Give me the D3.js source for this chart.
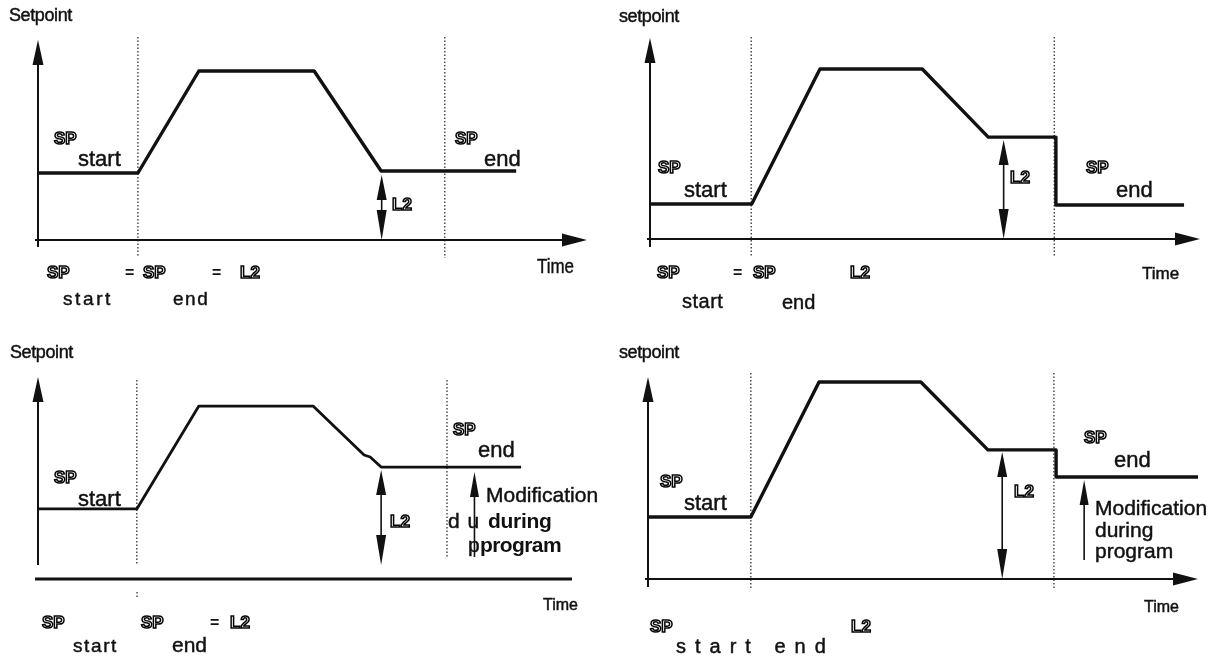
<!DOCTYPE html>
<html>
<head>
<meta charset="utf-8">
<script src="https://cdn.jsdelivr.net/npm/d3@7"></script>
<style>
body { margin: 0; background: #fff; }
svg { display: block; font-family: "Liberation Sans", Arial, Helvetica, sans-serif; filter: grayscale(1); }
.sp { font-weight: bold; fill: #fff; stroke: #000; stroke-width: 1.5px; }
.eq { font-weight: bold; fill: #111; }
.lbl { fill: #111; stroke: #111; stroke-width: 0.45px; }
.bold { fill: #111; font-weight: bold; }
</style>
</head>
<body>
<svg id="chart" width="1225" height="661"></svg>
<script>
// setpoint profiles, time and setpoint both in % of the axis length
var p1Time = [0, 18.2, 29.3, 50.3, 62.5, 87.1];
var p1Setpoint = [33.5, 33.5, 84.5, 84.5, 34.5, 34.5];
var p2Time = [0, 18.5, 30.9, 49.5, 61.5, 73.8, 73.8, 97.1];
var p2Setpoint = [17.4, 17.4, 84.6, 84.6, 50.7, 50.7, 16.9, 16.9];
var p3Time = [0, 18.0, 29.3, 50.1, 59.4, 60.5, 62.5, 88.0];
var p3Setpoint = [34.7, 34.7, 85.6, 85.6, 61.4, 60.4, 55.4, 55.4];
var p4Time = [0, 18.7, 31.1, 49.6, 61.8, 74.2, 74.2, 100];
var p4Setpoint = [30.7, 30.7, 97.5, 97.5, 63.9, 63.9, 50.5, 50.5];

// program start / end (dotted verticals)
var p1Marks = [18.2, 74.1];
var p2Marks = [18.4, 73.5];
var p3Marks = [18.0, 74.5];
var p4Marks = [18.7, 73.8];

// L2 double arrows: [time, low, high]
var p1L2 = [62.6, 0, 32.5];
var p2L2 = [64.3, 0, 49.3];
var p3L2 = [62.5, 6.9, 54.0];
var p4L2 = [64.4, 0, 62.9];

// "modification during program" arrows: [time, low, high]
var p3Mod = [79.5, 10.9, 53.0];
var p4Mod = [79.3, 9.4, 49.0];

var svg = d3.select('#chart');

function head(g, x, y, dir, len, half) {
    var pts;
    if (dir === 'up') pts = [[x, y], [x - half, y + len], [x + half, y + len]];
    if (dir === 'down') pts = [[x, y], [x - half, y - len], [x + half, y - len]];
    if (dir === 'right') pts = [[x, y], [x - len, y - half], [x - len, y + half]];
    g.append('path')
        .attr('d', d3.line()(pts) + 'Z')
        .attr('fill', '#111');
}

// len: force the text to a given width (the scan uses a narrow face)
function txt(g, x, y, s, size, cls, ls, len) {
    var t = g.append('text')
        .attr('class', cls || 'lbl')
        .attr('x', x)
        .attr('y', y)
        .style('font-size', size + 'px')
        .style('letter-spacing', (ls || 0) + 'px')
        .text(s);
    if (len) t.attr('textLength', len).attr('lengthAdjust', 'spacingAndGlyphs');
    return t;
}

function drawPanel(p) {
    var x = d3.scaleLinear().domain([0, 100]).range([p.x0, p.x1]);
    var y = d3.scaleLinear().domain([0, 100]).range([p.y0, p.y1]);
    var g = svg.append('g');

    // dotted program marks
    g.selectAll('.mark')
        .data(p.marks)
        .enter().append('line')
        .attr('class', 'mark')
        .attr('x1', function(d) { return x(d); })
        .attr('x2', function(d) { return x(d); })
        .attr('y1', p.markTop)
        .attr('y2', function(d, i) { return p.markBottom[i]; })
        .attr('stroke', '#333')
        .attr('stroke-width', 1.3)
        .attr('stroke-dasharray', '1.5,2');

    // axes
    g.append('line')
        .attr('x1', p.x0).attr('x2', p.x0)
        .attr('y1', p.yAxisBottom).attr('y2', y(100) + 10)
        .attr('stroke', '#111').attr('stroke-width', 2);
    head(g, p.x0, y(100), 'up', 25, 5.5);

    g.append('line')
        .attr('x1', p.x0 - 3).attr('x2', p.xAxisEnd ? p.xAxisEnd : x(100) - 10)
        .attr('y1', p.y0).attr('y2', p.y0)
        .attr('stroke', '#111').attr('stroke-width', p.xAxisWidth || 2);
    if (!p.xAxisEnd) head(g, x(100), p.y0, 'right', 25, 6.5);

    // setpoint profile
    var line = d3.line()
        .x(function(d, i) { return x(p.time[i]); })
        .y(function(d) { return y(d); });
    g.append('path')
        .datum(p.sp)
        .attr('d', line)
        .attr('fill', 'none')
        .attr('stroke', '#111')
        .attr('stroke-width', p.lineWidth || 3.4)
        .attr('stroke-linejoin', 'round');

    // L2 double arrow
    var lx = x(p.l2[0]), lTop = y(p.l2[2]), lBot = y(p.l2[1]);
    g.append('line')
        .attr('x1', lx).attr('x2', lx)
        .attr('y1', lTop + 10).attr('y2', lBot - 10)
        .attr('stroke', '#111').attr('stroke-width', 1.6);
    head(g, lx, lTop, 'up', 25, 5);
    head(g, lx, lBot, 'down', 30, 5);

    if (p.mod) {
        var mx = x(p.mod[0]);
        g.append('line')
            .attr('x1', mx).attr('x2', mx)
            .attr('y1', y(p.mod[2]) + 10).attr('y2', y(p.mod[1]))
            .attr('stroke', '#111').attr('stroke-width', 1.6);
        head(g, mx, y(p.mod[2]), 'up', 25, 4.5);
    }
    return g;
}

var g1 = drawPanel({x0: 38, x1: 587, y0: 240, y1: 40, time: p1Time, sp: p1Setpoint,
    marks: p1Marks, markTop: 37, markBottom: [256, 258], yAxisBottom: 247, l2: p1L2});
var g2 = drawPanel({x0: 650, x1: 1200, y0: 239, y1: 38, time: p2Time, sp: p2Setpoint,
    marks: p2Marks, markTop: 37, markBottom: [257, 257], yAxisBottom: 247, l2: p2L2});
var g3 = drawPanel({x0: 38, x1: 587, y0: 579, y1: 377, time: p3Time, sp: p3Setpoint,
    marks: p3Marks, markTop: 380, markBottom: [565, 557], yAxisBottom: 565, l2: p3L2,
    xAxisEnd: 572, xAxisWidth: 3, lineWidth: 2.8, mod: p3Mod});
var g4 = drawPanel({x0: 648, x1: 1198, y0: 579, y1: 377, time: p4Time, sp: p4Setpoint,
    marks: p4Marks, markTop: 373, markBottom: [590, 590], yAxisBottom: 587, l2: p4L2,
    mod: p4Mod});

// small stub under panel 3 first mark
g3.append('line').attr('x1', 137).attr('x2', 137).attr('y1', 592).attr('y2', 599)
    .attr('stroke', '#333').attr('stroke-width', 1.3).attr('stroke-dasharray', '1.5,2');

// panel 1 labels
txt(g1, 9, 21, 'Setpoint', 18, 'lbl', -0.4);
txt(g1, 54, 144, 'SP', 17, 'sp');
txt(g1, 78, 166, 'start', 22);
txt(g1, 455, 144, 'SP', 17, 'sp');
txt(g1, 484, 166, 'end', 22);
txt(g1, 392, 210, 'L2', 17, 'sp');
txt(g1, 537, 273, 'Time', 21, 'lbl', 0, 37);
txt(g1, 47, 278, 'SP', 17, 'sp');
txt(g1, 125, 278, '=', 16, 'eq');
txt(g1, 143, 278, 'SP', 17, 'sp');
txt(g1, 212, 278, '=', 16, 'eq');
txt(g1, 240, 278, 'L2', 17, 'sp');
txt(g1, 63, 305, 'start', 19, 'lbl', 2.6);
txt(g1, 173, 305, 'end', 19, 'lbl', 1.5);

// panel 2 labels
txt(g2, 619, 22, 'setpoint', 18, 'lbl', -0.4);
txt(g2, 658, 173, 'SP', 17, 'sp');
txt(g2, 684, 197, 'start', 22);
txt(g2, 1086, 173, 'SP', 17, 'sp');
txt(g2, 1116, 197, 'end', 22);
txt(g2, 1010, 183, 'L2', 17, 'sp');
txt(g2, 1142, 279, 'Time', 17);
txt(g2, 657, 278, 'SP', 17, 'sp');
txt(g2, 733, 278, '=', 16, 'eq');
txt(g2, 753, 278, 'SP', 17, 'sp');
txt(g2, 850, 278, 'L2', 17, 'sp');
txt(g2, 682, 308, 'start', 20, 'lbl', 0.5);
txt(g2, 782, 309, 'end', 20);

// panel 3 labels
txt(g3, 10, 358, 'Setpoint', 18, 'lbl', -0.4);
txt(g3, 54, 483, 'SP', 17, 'sp');
txt(g3, 78, 506, 'start', 22);
txt(g3, 453, 435, 'SP', 17, 'sp');
txt(g3, 478, 457, 'end', 22);
txt(g3, 390, 527, 'L2', 17, 'sp');
txt(g3, 486, 502, 'Modification', 21);
txt(g3, 448, 528, 'd u', 21, 'lbl', 1);
txt(g3, 488, 528, 'during', 21, 'bold', -0.3);
txt(g3, 468, 552, 'p', 21);
txt(g3, 480, 552, 'program', 21, 'bold', -0.6);
txt(g3, 543, 610, 'Time', 16);
txt(g3, 42, 628, 'SP', 17, 'sp');
txt(g3, 141, 628, 'SP', 17, 'sp');
txt(g3, 210, 628, '=', 16, 'eq');
txt(g3, 230, 628, 'L2', 17, 'sp');
txt(g3, 73, 652, 'start', 19, 'lbl', 1.6);
txt(g3, 172, 652, 'end', 21);

// panel 4 labels
txt(g4, 619, 358, 'setpoint', 18, 'lbl', -0.4);
txt(g4, 660, 487, 'SP', 17, 'sp');
txt(g4, 684, 510, 'start', 22);
txt(g4, 1084, 443, 'SP', 17, 'sp');
txt(g4, 1114, 467, 'end', 22);
txt(g4, 1014, 497, 'L2', 17, 'sp');
txt(g4, 1095, 515, 'Modification', 21);
txt(g4, 1095, 537, 'during', 21);
txt(g4, 1095, 558, 'program', 21);
txt(g4, 1144, 612, 'Time', 16);
txt(g4, 650, 632, 'SP', 17, 'sp');
txt(g4, 851, 632, 'L2', 17, 'sp');
txt(g4, 676, 653, 'start end', 20, 'lbl', 9);
</script>
</body>
</html>
